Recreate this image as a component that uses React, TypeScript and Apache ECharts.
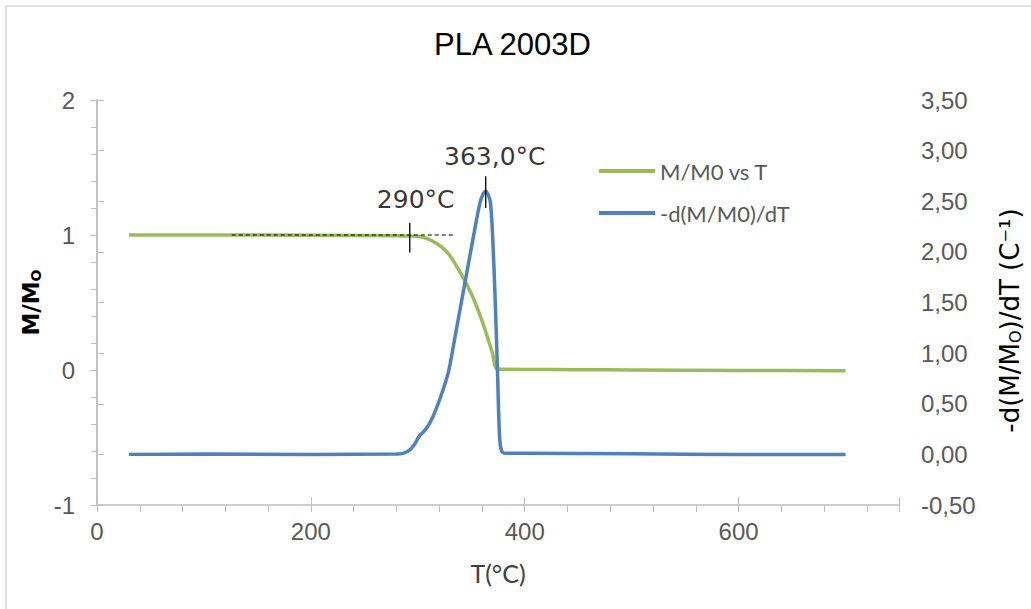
import React, { useEffect, useRef } from "react";
import * as echarts from "echarts";

const chartTitle = "PLA 2003D";
const seriesNames = ["M/M0 vs T", "-d(M/M0)/dT"];

// M/M0 vs T
const massTemps = [30, 100, 200, 280, 290, 300, 310, 318, 326, 332, 338, 343, 347, 352, 357, 362, 366, 370, 373.5, 380, 400, 450, 500, 600, 700];
const massValues = [1.0, 1.0, 0.998, 0.995, 0.993, 0.99, 0.97, 0.935, 0.885, 0.825, 0.745, 0.675, 0.615, 0.53, 0.43, 0.32, 0.22, 0.12, 0.01, 0.006, 0.004, 0.002, 0.0, -0.003, -0.005];

// -d(M/M0)/dT
const derivTemps = [30, 100, 200, 280, 286, 292, 297, 301, 305, 309, 314, 319, 324, 329, 336, 344, 352, 358, 361, 363.5, 366, 368, 370, 372.5, 374.5, 376.5, 378.5, 382, 400, 500, 600, 700];
const derivValues = [0.0, 0.003, 0.0, 0.003, 0.01, 0.04, 0.1, 0.175, 0.22, 0.27, 0.37, 0.5, 0.65, 0.83, 1.23, 1.69, 2.15, 2.48, 2.57, 2.6, 2.56, 2.48, 2.15, 1.49, 0.83, 0.17, 0.03, 0.01, 0.01, 0.005, 0.0, 0.0];

// annotations
const onsetLabel = "290°C";
const onsetTemp = 292.5;
const onsetDashFrom = 126;
const onsetDashTo = 335;
const peakLabel = "363,0°C";
const peakTemp = 363.5;

const xLabelTicks = [0, 200, 400, 600];

export default function App() {
  const ref = useRef<HTMLDivElement>(null);
  useEffect(() => {
    const chart = echarts.init(ref.current!, null, { renderer: "svg" });
    const axisGray = "#BFBFBF";
    const labelGray = "#595959";
    chart.setOption({
      animation: false,
      backgroundColor: "#ffffff",
      title: {
        text: chartTitle,
        left: 429,
        top: 24,
        textStyle: { fontFamily: "Liberation Sans", fontSize: 31, fontWeight: "normal", color: "#000000" },
      },
      graphic: [
        {
          type: "rect",
          shape: { x: 6, y: 6, width: 1040, height: 620 },
          style: { fill: "none", stroke: "#D9D9D9", lineWidth: 1.5 },
          silent: true,
        },
      ],
      legend: {
        data: seriesNames,
        orient: "vertical",
        left: 594,
        top: 155,
        icon: "rect",
        itemWidth: 56,
        itemHeight: 4,
        itemGap: 20,
        textStyle: { fontFamily: "Lato", fontSize: 22, color: labelGray },
      },
      grid: { left: 97, right: 122, top: 100, bottom: 104 },
      xAxis: [
        {
          type: "value",
          min: 0,
          max: 750,
          interval: 40,
          name: "T(°C)",
          nameLocation: "middle",
          nameGap: 55,
          nameTextStyle: { fontFamily: "Lato", fontSize: 25, color: "#404040" },
          axisLine: { show: true, onZero: false, lineStyle: { color: axisGray, width: 1.5 } },
          axisTick: { show: true, length: 7, lineStyle: { color: axisGray } },
          axisLabel: {
            margin: 14,
            fontFamily: "Liberation Sans",
            fontSize: 24,
            color: labelGray,
            formatter: (v: number) => (xLabelTicks.includes(v) ? String(v) : ""),
          },
          splitLine: { show: false },
        },
        {
          type: "value",
          position: "bottom",
          min: 0,
          max: 750,
          interval: 200,
          axisLine: { show: false, onZero: false },
          axisTick: { show: true, inside: true, length: 8, lineStyle: { color: axisGray } },
          axisLabel: { show: false },
          splitLine: { show: false },
        },
      ],
      yAxis: [
        {
          type: "value",
          min: -1,
          max: 2,
          interval: 1,
          name: "{a|M/M}{s|O}",
          nameLocation: "middle",
          nameGap: 52,
          nameTextStyle: {
            rich: {
              a: { fontFamily: "DejaVu Sans", fontWeight: "bold", fontSize: 23, color: "#000000" },
              s: { fontFamily: "DejaVu Sans", fontWeight: "bold", fontSize: 14, color: "#000000", verticalAlign: "bottom", padding: [7, 0, 0, 0] },
            },
          },
          axisLine: { show: true, lineStyle: { color: axisGray, width: 1.5 } },
          axisTick: { show: true, length: 7, lineStyle: { color: axisGray } },
          minorTick: { show: true, splitNumber: 5, length: 6, lineStyle: { color: axisGray } },
          axisLabel: { margin: 22, fontFamily: "Liberation Sans", fontSize: 24, color: labelGray },
          splitLine: { show: false },
          minorSplitLine: { show: false },
        },
        {
          type: "value",
          min: -0.5,
          max: 3.5,
          interval: 0.5,
          position: "right",
          name: "{a|-d(M/M}{s|O}{a|)/dT (C⁻¹)}",
          nameLocation: "middle",
          nameGap: 98,
          nameRotate: 90,
          nameTextStyle: {
            padding: [0, 36, 0, 0],
            rich: {
              a: { fontFamily: "DejaVu Sans", fontSize: 26, color: "#000000" },
              s: { fontFamily: "DejaVu Sans", fontSize: 16, color: "#000000", verticalAlign: "bottom", padding: [7, 0, 0, 0] },
            },
          },
          axisLine: { show: true, lineStyle: { color: axisGray, width: 1.5 } },
          axisTick: { show: true, length: 7, lineStyle: { color: axisGray } },
          axisLabel: {
            margin: 22,
            fontFamily: "Liberation Sans",
            fontSize: 24,
            color: labelGray,
            formatter: (v: number) => v.toFixed(2).replace(".", ","),
          },
          splitLine: { show: false },
        },
      ],
      series: [
        {
          name: seriesNames[0],
          type: "line",
          xAxisIndex: 0,
          yAxisIndex: 0,
          symbol: "none",
          smooth: 0.3,
          lineStyle: { color: "#9BBB59", width: 3.5 },
          itemStyle: { color: "#9BBB59" },
          data: massTemps.map((t, i) => [t, massValues[i]]),
          z: 3,
        },
        {
          name: seriesNames[1],
          type: "line",
          xAxisIndex: 0,
          yAxisIndex: 1,
          symbol: "none",
          smooth: 0.3,
          lineStyle: { color: "#4F81BD", width: 3.5 },
          itemStyle: { color: "#4F81BD" },
          data: derivTemps.map((t, i) => [t, derivValues[i]]),
          z: 4,
        },
        {
          name: "onsetDash",
          type: "line",
          yAxisIndex: 0,
          symbol: "none",
          lineStyle: { color: "#000000", width: 1.2, type: [4, 3] },
          data: [[onsetDashFrom, 1], [onsetDashTo, 1]],
          z: 5,
          silent: true,
        },
        {
          name: "onsetTick",
          type: "line",
          yAxisIndex: 0,
          symbol: "none",
          lineStyle: { color: "#000000", width: 1.3 },
          data: [[onsetTemp, 0.87], [onsetTemp, 1.09]],
          z: 5,
          silent: true,
        },
        {
          name: "peakTick",
          type: "line",
          yAxisIndex: 0,
          symbol: "none",
          lineStyle: { color: "#000000", width: 1.3 },
          data: [[peakTemp, 1.2], [peakTemp, 1.435]],
          z: 5,
          silent: true,
        },
        {
          name: "labels",
          type: "scatter",
          yAxisIndex: 0,
          symbolSize: 0,
          silent: true,
          label: {
            show: true,
            position: "inside",
            formatter: (p: any) => p.name,
            fontFamily: "DejaVu Sans",
            fontSize: 25,
            color: "#000000",
          },
          data: [
            { name: onsetLabel, value: [298, 1.26] },
            { name: peakLabel, value: [372, 1.58] },
          ],
          z: 6,
        },
      ],
    });
    return () => chart.dispose();
  }, []);
  return (
    <div
      ref={ref}
      style={{ position: "fixed", left: 0, top: 0, width: 1031, height: 609, background: "#fff" }}
    />
  );
}
